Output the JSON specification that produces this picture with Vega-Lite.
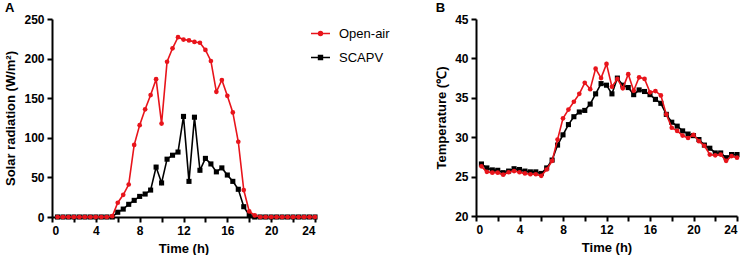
{
  "$schema": "https://vega.github.io/schema/vega-lite/v6.json",
  "background": "white",
  "padding": {"left": 4, "top": 2, "right": 5, "bottom": 0},
  "config": {
    "font": "Liberation Sans",
    "view": {"stroke": null},
    "axis": {"domainColor": "black", "domainWidth": 2, "tickColor": "black", "tickWidth": 2, "tickSize": 5, "labelFont": "Liberation Sans", "labelFontWeight": "bold", "labelFontSize": 12, "labelColor": "black", "titleFont": "Liberation Sans", "titleFontWeight": "bold", "titleFontSize": 13, "titleColor": "black", "grid": false, "labelPadding": 3, "titlePadding": 6},
    "title": {"fontSize": 13, "fontWeight": "bold", "anchor": "start", "frame": "bounds", "color": "black", "offset": -2, "font": "Liberation Sans"},
    "legend": {"labelFont": "Liberation Sans", "labelFontSize": 13, "labelColor": "black", "title": null}
  },
  "spacing": 45,
  "resolve": {"scale": {"color": "independent"}, "legend": {"color": "independent"}},
  "hconcat": [
    {
      "title": {"text": "A"},
      "width": 263,
      "height": 198,
      "data": {"values": [
        {"t": 0.5, "Open-air": 0, "SCAPV": 0}, {"t": 1, "Open-air": 0, "SCAPV": 0}, {"t": 1.5, "Open-air": 0, "SCAPV": 0}, {"t": 2, "Open-air": 0, "SCAPV": 0},
        {"t": 2.5, "Open-air": 0, "SCAPV": 0}, {"t": 3, "Open-air": 0, "SCAPV": 0}, {"t": 3.5, "Open-air": 0, "SCAPV": 0}, {"t": 4, "Open-air": 0, "SCAPV": 0},
        {"t": 4.5, "Open-air": 0, "SCAPV": 0}, {"t": 5, "Open-air": 0, "SCAPV": 0}, {"t": 5.5, "Open-air": 1, "SCAPV": 0}, {"t": 6, "Open-air": 18, "SCAPV": 6},
        {"t": 6.5, "Open-air": 28, "SCAPV": 10}, {"t": 7, "Open-air": 41, "SCAPV": 16}, {"t": 7.5, "Open-air": 91, "SCAPV": 21}, {"t": 8, "Open-air": 116, "SCAPV": 26},
        {"t": 8.5, "Open-air": 136, "SCAPV": 29}, {"t": 9, "Open-air": 154, "SCAPV": 34}, {"t": 9.5, "Open-air": 174, "SCAPV": 63}, {"t": 10, "Open-air": 118, "SCAPV": 43},
        {"t": 10.5, "Open-air": 196, "SCAPV": 73}, {"t": 11, "Open-air": 213, "SCAPV": 78}, {"t": 11.5, "Open-air": 227, "SCAPV": 82}, {"t": 12, "Open-air": 224, "SCAPV": 127},
        {"t": 12.5, "Open-air": 223, "SCAPV": 45}, {"t": 13, "Open-air": 221, "SCAPV": 126}, {"t": 13.5, "Open-air": 220, "SCAPV": 59}, {"t": 14, "Open-air": 211, "SCAPV": 74},
        {"t": 14.5, "Open-air": 197, "SCAPV": 67}, {"t": 15, "Open-air": 158, "SCAPV": 57}, {"t": 15.5, "Open-air": 173, "SCAPV": 62}, {"t": 16, "Open-air": 153, "SCAPV": 53},
        {"t": 16.5, "Open-air": 132, "SCAPV": 45}, {"t": 17, "Open-air": 95, "SCAPV": 35}, {"t": 17.5, "Open-air": 34, "SCAPV": 13}, {"t": 18, "Open-air": 7, "SCAPV": 2},
        {"t": 18.5, "Open-air": 2, "SCAPV": 0}, {"t": 19, "Open-air": 0, "SCAPV": 0}, {"t": 19.5, "Open-air": 0, "SCAPV": 0}, {"t": 20, "Open-air": 0, "SCAPV": 0},
        {"t": 20.5, "Open-air": 0, "SCAPV": 0}, {"t": 21, "Open-air": 0, "SCAPV": 0}, {"t": 21.5, "Open-air": 0, "SCAPV": 0}, {"t": 22, "Open-air": 0, "SCAPV": 0},
        {"t": 22.5, "Open-air": 0, "SCAPV": 0}, {"t": 23, "Open-air": 0, "SCAPV": 0}, {"t": 23.5, "Open-air": 0, "SCAPV": 0}, {"t": 24, "Open-air": 0, "SCAPV": 0}
      ]},
      "transform": [{"fold": ["Open-air", "SCAPV"], "as": ["series", "value"]}],
      "encoding": {
        "x": {"field": "t", "type": "quantitative", "scale": {"domain": [0, 24], "nice": false}, "axis": {"values": [0, 2, 4, 6, 8, 10, 12, 14, 16, 18, 20, 22, 24], "labelExpr": "datum.value % 4 == 0 ? datum.label : ''", "title": "Time (h)"}},
        "y": {"field": "value", "type": "quantitative", "scale": {"domain": [0, 250], "nice": false}, "axis": {"values": [0, 50, 100, 150, 200, 250], "title": "Solar radiation (W/m²)"}},
        "color": {"field": "series", "type": "nominal", "scale": {"domain": ["Open-air", "SCAPV"], "range": ["#e8141b", "black"]},
          "legend": {"orient": "none", "legendX": 262, "legendY": 8, "rowPadding": 10, "symbolSize": 100, "labelOffset": 12, "symbolStrokeWidth": 1.4,
            "encode": {"symbols": {"update": {
              "shape": {"signal": "datum.value === 'Open-air' ? 'M-1.9,0L1.9,0M-0.4,0A0.4,0.4 0 1,1 0.4,0A0.4,0.4 0 1,1 -0.4,0Z' : 'M-1.9,0L1.9,0M-0.4,-0.4L0.4,-0.4L0.4,0.4L-0.4,0.4Z'"},
              "fill": {"signal": "datum.value === 'Open-air' ? '#e8141b' : 'black'"},
              "stroke": {"signal": "datum.value === 'Open-air' ? '#e8141b' : 'black'"},
              "strokeWidth": {"value": 1.4},
              "opacity": {"value": 1}
            }}}}}
      },
      "layer": [
        {"transform": [{"filter": "datum.series === 'SCAPV'"}], "mark": {"type": "line", "strokeWidth": 1.6}, "encoding": {}},
        {"transform": [{"filter": "datum.series === 'SCAPV'"}], "mark": {"type": "point", "filled": true, "size": 26, "opacity": 1, "shape": "square"}},
        {"transform": [{"filter": "datum.series === 'Open-air'"}], "mark": {"type": "line", "strokeWidth": 1.6}, "encoding": {}},
        {"transform": [{"filter": "datum.series === 'Open-air'"}], "mark": {"type": "point", "filled": true, "size": 22, "opacity": 1, "shape": "circle"}}
      ]
    },
    {
      "title": {"text": "B"},
      "width": 261,
      "height": 197,
      "data": {"values": [
        {"t": 0.5, "Open-air": 26.3, "SCAPV": 26.6}, {"t": 1, "Open-air": 25.6, "SCAPV": 26.1}, {"t": 1.5, "Open-air": 25.5, "SCAPV": 25.85}, {"t": 2, "Open-air": 25.5, "SCAPV": 25.8},
        {"t": 2.5, "Open-air": 25.25, "SCAPV": 25.5}, {"t": 3, "Open-air": 25.55, "SCAPV": 25.7}, {"t": 3.5, "Open-air": 25.7, "SCAPV": 26.0}, {"t": 4, "Open-air": 25.55, "SCAPV": 25.9},
        {"t": 4.5, "Open-air": 25.4, "SCAPV": 25.7}, {"t": 5, "Open-air": 25.3, "SCAPV": 25.6}, {"t": 5.5, "Open-air": 25.3, "SCAPV": 25.6}, {"t": 6, "Open-air": 25.1, "SCAPV": 25.4},
        {"t": 6.5, "Open-air": 25.9, "SCAPV": 26.1}, {"t": 7, "Open-air": 27.0, "SCAPV": 27.1}, {"t": 7.5, "Open-air": 29.7, "SCAPV": 29.0}, {"t": 8, "Open-air": 32.4, "SCAPV": 30.3},
        {"t": 8.5, "Open-air": 33.5, "SCAPV": 31.6}, {"t": 9, "Open-air": 34.5, "SCAPV": 32.6}, {"t": 9.5, "Open-air": 35.5, "SCAPV": 33.2}, {"t": 10, "Open-air": 36.9, "SCAPV": 33.4},
        {"t": 10.5, "Open-air": 36.1, "SCAPV": 34.2}, {"t": 11, "Open-air": 38.7, "SCAPV": 35.5}, {"t": 11.5, "Open-air": 37.5, "SCAPV": 36.8}, {"t": 12, "Open-air": 39.3, "SCAPV": 36.6},
        {"t": 12.5, "Open-air": 36.4, "SCAPV": 35.5}, {"t": 13, "Open-air": 37.4, "SCAPV": 37.5}, {"t": 13.5, "Open-air": 36.2, "SCAPV": 36.6}, {"t": 14, "Open-air": 38.0, "SCAPV": 36.3},
        {"t": 14.5, "Open-air": 35.9, "SCAPV": 35.4}, {"t": 15, "Open-air": 37.6, "SCAPV": 36.0}, {"t": 15.5, "Open-air": 37.4, "SCAPV": 35.8}, {"t": 16, "Open-air": 35.7, "SCAPV": 35.4},
        {"t": 16.5, "Open-air": 35.85, "SCAPV": 34.8}, {"t": 17, "Open-air": 35.3, "SCAPV": 34.3}, {"t": 17.5, "Open-air": 32.9, "SCAPV": 32.9}, {"t": 18, "Open-air": 31.2, "SCAPV": 31.9},
        {"t": 18.5, "Open-air": 30.8, "SCAPV": 31.4}, {"t": 19, "Open-air": 30.2, "SCAPV": 30.8}, {"t": 19.5, "Open-air": 29.9, "SCAPV": 30.4}, {"t": 20, "Open-air": 30.3, "SCAPV": 30.2},
        {"t": 20.5, "Open-air": 29.5, "SCAPV": 29.7}, {"t": 21, "Open-air": 28.9, "SCAPV": 29.0}, {"t": 21.5, "Open-air": 27.8, "SCAPV": 28.6}, {"t": 22, "Open-air": 27.7, "SCAPV": 28.0},
        {"t": 22.5, "Open-air": 27.8, "SCAPV": 28.0}, {"t": 23, "Open-air": 27.0, "SCAPV": 27.4}, {"t": 23.5, "Open-air": 27.6, "SCAPV": 27.8}, {"t": 24, "Open-air": 27.4, "SCAPV": 27.8}
      ]},
      "transform": [{"fold": ["Open-air", "SCAPV"], "as": ["series", "value"]}],
      "encoding": {
        "x": {"field": "t", "type": "quantitative", "scale": {"domain": [0, 24], "nice": false}, "axis": {"values": [0, 2, 4, 6, 8, 10, 12, 14, 16, 18, 20, 22, 24], "labelExpr": "datum.value % 4 == 0 ? datum.label : ''", "title": "Time (h)"}},
        "y": {"field": "value", "type": "quantitative", "scale": {"domain": [20, 45], "nice": false, "zero": false}, "axis": {"values": [20, 25, 30, 35, 40, 45], "title": "Temperature (℃)"}},
        "color": {"field": "series", "type": "nominal", "scale": {"domain": ["Open-air", "SCAPV"], "range": ["#e8141b", "black"]}, "legend": null}
      },
      "layer": [
        {"transform": [{"filter": "datum.series === 'SCAPV'"}], "mark": {"type": "line", "strokeWidth": 1.6}, "encoding": {}},
        {"transform": [{"filter": "datum.series === 'SCAPV'"}], "mark": {"type": "point", "filled": true, "size": 26, "opacity": 1, "shape": "square"}},
        {"transform": [{"filter": "datum.series === 'Open-air'"}], "mark": {"type": "line", "strokeWidth": 1.6}, "encoding": {}},
        {"transform": [{"filter": "datum.series === 'Open-air'"}], "mark": {"type": "point", "filled": true, "size": 22, "opacity": 1, "shape": "circle"}}
      ]
    }
  ]
}
